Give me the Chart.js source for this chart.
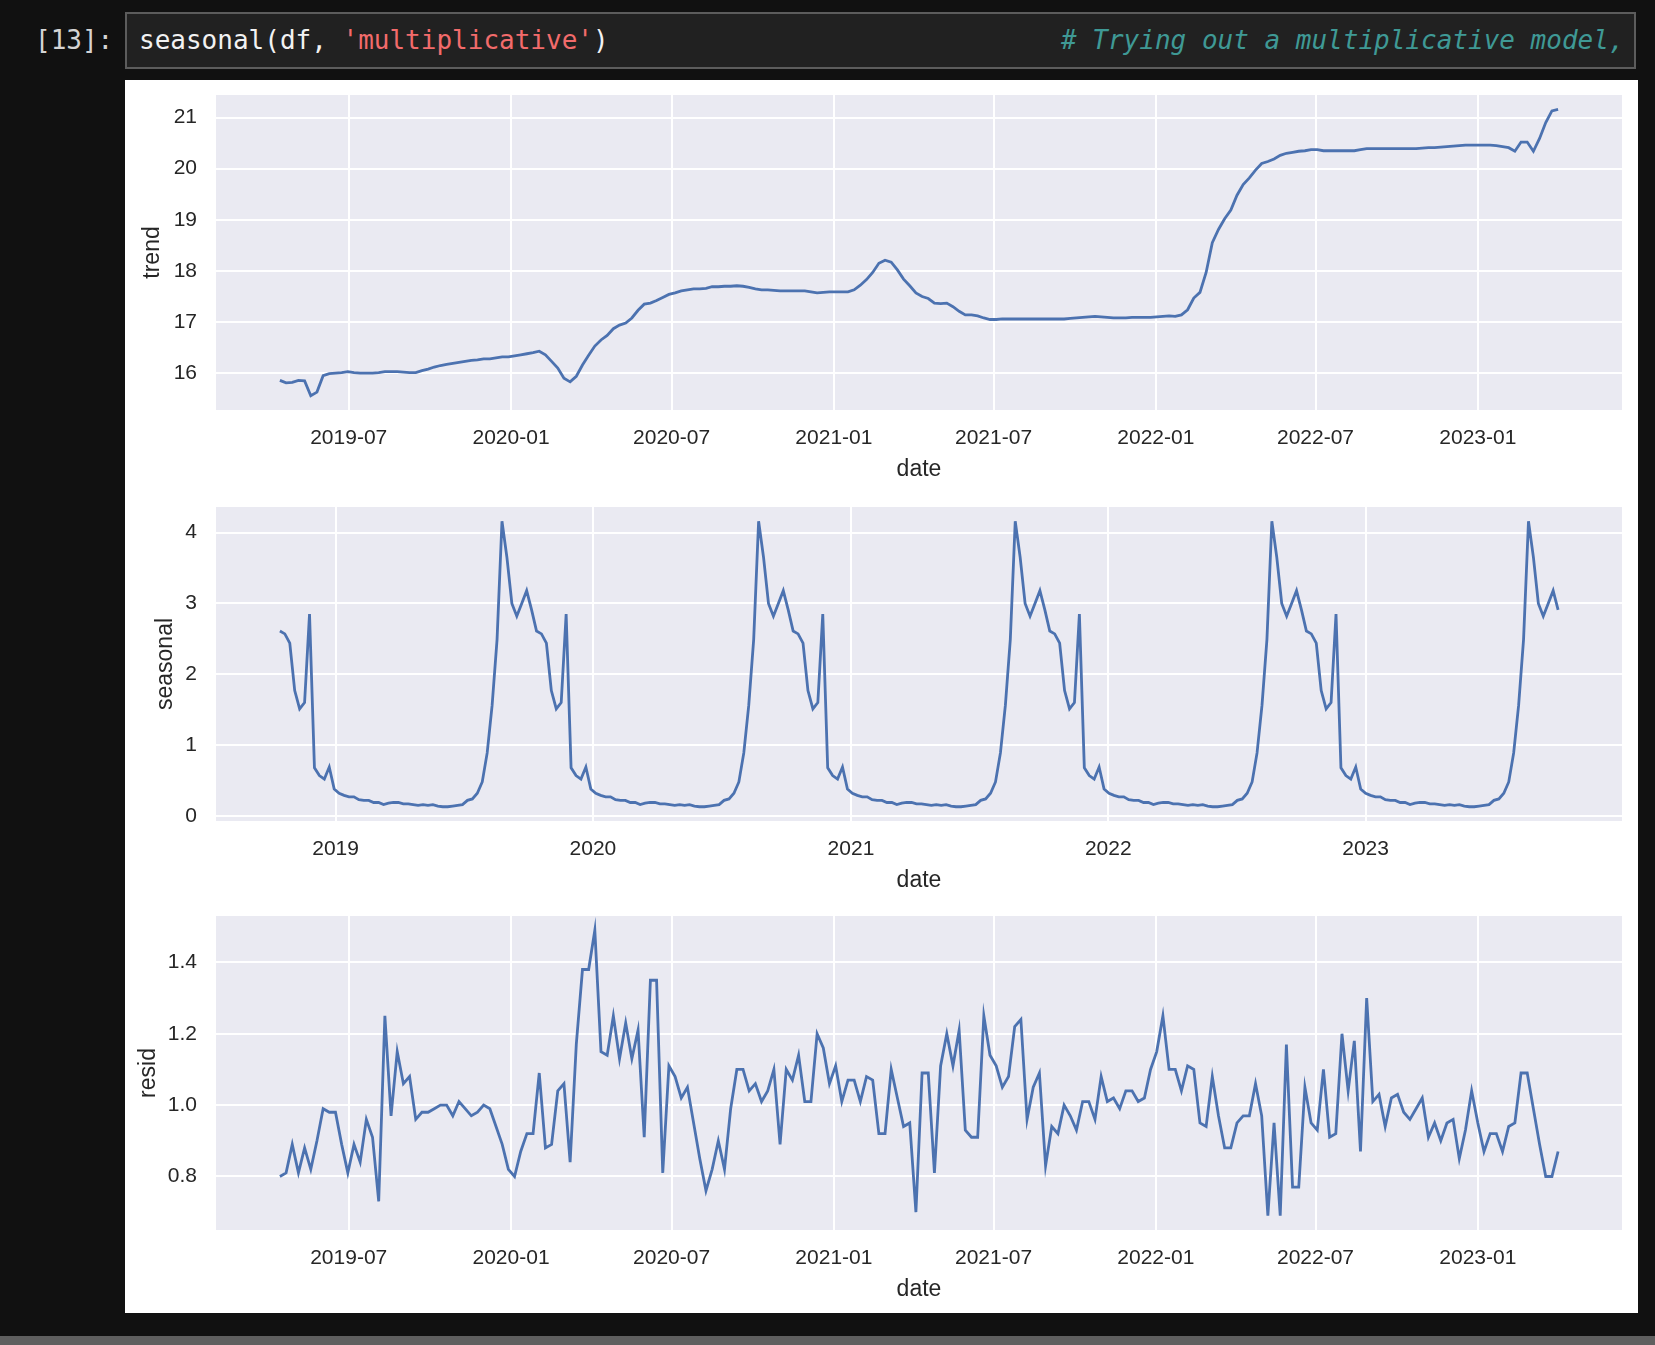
<!DOCTYPE html>
<html>
<head>
<meta charset="utf-8">
<script src="https://cdn.jsdelivr.net/npm/chart.js@4.4.1/dist/chart.umd.min.js"></script>
<style>
  html, body {
    margin: 0;
    padding: 0;
    background: #111111;
    width: 1655px;
    height: 1345px;
    overflow: hidden;
    position: relative;
  }
  .prompt, .code {
    position: absolute;
    font-family: "DejaVu Sans Mono", monospace;
    font-size: 26px;
    line-height: 30px;
    white-space: pre;
  }
  .prompt {
    left: 35px;
    top: 25px;
    color: #d4d4d4;
  }
  .cell {
    position: absolute;
    left: 125px;
    top: 12px;
    width: 1507px;
    height: 53px;
    border: 2px solid #5c5c5c;
    background: #212121;
    overflow: hidden;
  }
  .code {
    left: 12px;
    top: 11px;
    color: #f2f2f2;
  }
  .str { color: #f26b6b; }
  .comment {
    position: absolute;
    left: 934px;
    top: 11px;
    color: #3f9995;
    font-style: italic;
    font-family: "DejaVu Sans Mono", monospace;
    font-size: 26px;
    line-height: 30px;
    white-space: pre;
  }
  .figure {
    position: absolute;
    left: 125px;
    top: 80px;
    width: 1513px;
    height: 1233px;
    background: #ffffff;
  }
  .bar {
    position: absolute;
    left: 0;
    top: 1336px;
    width: 1655px;
    height: 9px;
    background: #5f5f5f;
  }
  canvas {
    position: absolute;
    left: 125px;
  }
</style>
</head>
<body>
<div class="prompt">[13]:</div>
<div class="cell">
  <div class="code">seasonal(df, <span class="str">'multiplicative'</span>)</div>
  <div class="comment"># Trying out a multiplicative model, since the seasonal swings grow</div>
</div>
<div class="figure"></div>
<canvas id="trendChart" width="1513" height="403" style="top:80px"></canvas>
<canvas id="seasonalChart" width="1513" height="411" style="top:483px"></canvas>
<canvas id="residChart" width="1513" height="409" style="top:894px"></canvas>
<div class="bar"></div>

<script>
// weekly series, first week of the decomposition
const firstWeek = "2018-10-14";
const weekCount = 260;
const trendOffset = 26; // trend / resid are NaN for the first and last 26 weeks

const trendXTicks = ["2019-07", "2020-01", "2020-07", "2021-01", "2021-07", "2022-01", "2022-07", "2023-01"];
const seasonalXTicks = ["2019", "2020", "2021", "2022", "2023"];
const trendYTicks = [16, 17, 18, 19, 20, 21];
const seasonalYTicks = [0, 1, 2, 3, 4];
const residYTicks = [0.8, 1.0, 1.2, 1.4];

const trend = [
  15.86, 15.81, 15.82, 15.86, 15.85, 15.56, 15.63, 15.95, 15.99, 16.00,
  16.01, 16.03, 16.01, 16.00, 16.00, 16.00, 16.01, 16.03, 16.03, 16.03,
  16.02, 16.01, 16.01, 16.05, 16.08, 16.12, 16.15, 16.17, 16.19, 16.21,
  16.23, 16.25, 16.26, 16.28, 16.28, 16.30, 16.32, 16.32, 16.34, 16.36,
  16.38, 16.40, 16.43, 16.36, 16.23, 16.10, 15.90, 15.83, 15.94, 16.16,
  16.35, 16.53, 16.65, 16.74, 16.87, 16.94, 16.98, 17.08, 17.23, 17.35,
  17.37, 17.42, 17.48, 17.54, 17.57, 17.61, 17.63, 17.65, 17.65,
  17.66, 17.69, 17.69, 17.70, 17.70, 17.71, 17.70, 17.68, 17.65, 17.63,
  17.63, 17.62, 17.61, 17.61, 17.61, 17.61, 17.61, 17.59, 17.57, 17.58,
  17.59, 17.59, 17.59, 17.59, 17.63, 17.72, 17.83, 17.97, 18.15, 18.21,
  18.17, 18.02, 17.84, 17.71, 17.57, 17.50, 17.46, 17.37, 17.36, 17.37,
  17.30, 17.21, 17.14, 17.14, 17.12, 17.08, 17.05, 17.05, 17.06, 17.06,
  17.06, 17.06, 17.06, 17.06, 17.06, 17.06, 17.06, 17.06, 17.06, 17.07,
  17.08, 17.09, 17.10, 17.11, 17.10, 17.09, 17.08, 17.08, 17.08,
  17.09, 17.09, 17.09, 17.09, 17.10, 17.11, 17.12, 17.11, 17.14, 17.24,
  17.47, 17.58, 17.97, 18.55, 18.81, 19.02, 19.19, 19.48, 19.69, 19.82,
  19.97, 20.10, 20.14, 20.19, 20.26, 20.30, 20.32, 20.34, 20.35, 20.37,
  20.37, 20.35, 20.35, 20.35, 20.35, 20.35, 20.35, 20.37, 20.39, 20.39,
  20.39, 20.39, 20.39, 20.39, 20.39, 20.39, 20.39, 20.40, 20.41, 20.41,
  20.42, 20.43, 20.44, 20.45, 20.46, 20.46, 20.46, 20.46, 20.46, 20.45,
  20.43, 20.41, 20.34, 20.52, 20.52, 20.34, 20.59, 20.90, 21.13, 21.16,
];

// the seasonal component is the same 52-week cycle, five times
const seasonal = [
  2.61, 2.57, 2.44, 1.77, 1.51, 1.60, 2.85, 0.68, 0.57, 0.52, 0.69, 0.38, 0.32, 0.29, 0.27, 0.27, 0.23, 0.22, 0.22, 0.19, 0.19, 0.16, 0.18, 0.19, 0.19, 0.17,
  0.17, 0.16, 0.15, 0.16, 0.15, 0.16, 0.14, 0.13, 0.13, 0.14, 0.15, 0.16, 0.22, 0.24, 0.32, 0.48, 0.89, 1.56, 2.49, 4.16, 3.65, 3.00, 2.82, 3.00, 3.18, 2.91,
  2.61, 2.57, 2.44, 1.77, 1.51, 1.60, 2.85, 0.68, 0.57, 0.52, 0.69, 0.38, 0.32, 0.29, 0.27, 0.27, 0.23, 0.22, 0.22, 0.19, 0.19, 0.16, 0.18, 0.19, 0.19, 0.17,
  0.17, 0.16, 0.15, 0.16, 0.15, 0.16, 0.14, 0.13, 0.13, 0.14, 0.15, 0.16, 0.22, 0.24, 0.32, 0.48, 0.89, 1.56, 2.49, 4.16, 3.65, 3.00, 2.82, 3.00, 3.18, 2.91,
  2.61, 2.57, 2.44, 1.77, 1.51, 1.60, 2.85, 0.68, 0.57, 0.52, 0.69, 0.38, 0.32, 0.29, 0.27, 0.27, 0.23, 0.22, 0.22, 0.19, 0.19, 0.16, 0.18, 0.19, 0.19, 0.17,
  0.17, 0.16, 0.15, 0.16, 0.15, 0.16, 0.14, 0.13, 0.13, 0.14, 0.15, 0.16, 0.22, 0.24, 0.32, 0.48, 0.89, 1.56, 2.49, 4.16, 3.65, 3.00, 2.82, 3.00, 3.18, 2.91,
  2.61, 2.57, 2.44, 1.77, 1.51, 1.60, 2.85, 0.68, 0.57, 0.52, 0.69, 0.38, 0.32, 0.29, 0.27, 0.27, 0.23, 0.22, 0.22, 0.19, 0.19, 0.16, 0.18, 0.19, 0.19, 0.17,
  0.17, 0.16, 0.15, 0.16, 0.15, 0.16, 0.14, 0.13, 0.13, 0.14, 0.15, 0.16, 0.22, 0.24, 0.32, 0.48, 0.89, 1.56, 2.49, 4.16, 3.65, 3.00, 2.82, 3.00, 3.18, 2.91,
  2.61, 2.57, 2.44, 1.77, 1.51, 1.60, 2.85, 0.68, 0.57, 0.52, 0.69, 0.38, 0.32, 0.29, 0.27, 0.27, 0.23, 0.22, 0.22, 0.19, 0.19, 0.16, 0.18, 0.19, 0.19, 0.17,
  0.17, 0.16, 0.15, 0.16, 0.15, 0.16, 0.14, 0.13, 0.13, 0.14, 0.15, 0.16, 0.22, 0.24, 0.32, 0.48, 0.89, 1.56, 2.49, 4.16, 3.65, 3.00, 2.82, 3.00, 3.18, 2.91,
];

const resid = [
  0.80, 0.81, 0.89, 0.81, 0.88, 0.82, 0.90, 0.99, 0.98, 0.98,
  0.89, 0.81, 0.89, 0.84, 0.96, 0.91, 0.73, 1.25, 0.97, 1.15,
  1.06, 1.08, 0.96, 0.98, 0.98, 0.99, 1.00, 1.00, 0.97, 1.01,
  0.99, 0.97, 0.98, 1.00, 0.99, 0.94, 0.89, 0.82, 0.80, 0.87,
  0.92, 0.92, 1.09, 0.88, 0.89, 1.04, 1.06, 0.84, 1.17, 1.38,
  1.38, 1.49, 1.15,
  1.14, 1.25, 1.13, 1.23, 1.13, 1.21, 0.91, 1.35, 1.35, 0.81,
  1.11, 1.08, 1.02, 1.05, 0.95, 0.85, 0.76, 0.82, 0.90, 0.82,
  0.99, 1.10, 1.10, 1.04, 1.06, 1.01, 1.04, 1.10, 0.89, 1.10,
  1.07, 1.14, 1.01, 1.01, 1.20, 1.16, 1.06, 1.11, 1.01, 1.07,
  1.07, 1.01, 1.08, 1.07, 0.92, 0.92, 1.10, 1.02, 0.94, 0.95,
  0.70, 1.09, 1.09, 0.81,
  1.11, 1.20, 1.11, 1.21, 0.93, 0.91, 0.91, 1.25, 1.14, 1.11,
  1.05, 1.08, 1.22, 1.24, 0.96, 1.05, 1.09, 0.83, 0.94, 0.92,
  1.00, 0.97, 0.93, 1.01, 1.01, 0.96, 1.08, 1.01, 1.02, 0.99,
  1.04, 1.04, 1.01, 1.02, 1.10, 1.15, 1.25, 1.10, 1.10, 1.04,
  1.11, 1.10, 0.95, 0.94, 1.08, 0.97, 0.88, 0.88, 0.95, 0.97,
  0.97, 1.06, 0.97, 0.69,
  0.95, 0.69, 1.17, 0.77, 0.77, 1.05, 0.95, 0.93, 1.10, 0.91,
  0.92, 1.20, 1.04, 1.18, 0.87, 1.30, 1.01, 1.03, 0.94, 1.02,
  1.03, 0.98, 0.96, 0.99, 1.02, 0.91, 0.95, 0.90, 0.95, 0.96,
  0.85, 0.93, 1.04, 0.95, 0.87, 0.92, 0.92, 0.87, 0.94, 0.95,
  1.09, 1.09, 0.99, 0.89, 0.80, 0.80, 0.87,
];

const DAY = 86400000;
const toDay = (s) => {
  const [y, m] = s.split("-").map(Number);
  return Date.UTC(y, (m || 1) - 1, 1) / DAY;
};
const pad2 = (n) => String(n).padStart(2, "0");
const fmtMonth = (d) => {
  const dt = new Date(d * DAY);
  return dt.getUTCFullYear() + "-" + pad2(dt.getUTCMonth() + 1);
};

const startDay = Date.parse(firstWeek + "T00:00:00Z") / DAY;
const weeks = [];
for (let k = 0; k < weekCount; k++) weeks.push(startDay + 7 * k);
const trendWeeks = weeks.slice(trendOffset, trendOffset + trend.length);

// matplotlib style 5% margins
const margin = (lo, hi) => [lo - (hi - lo) * 0.05, hi + (hi - lo) * 0.05];

Chart.defaults.font.family = '"Liberation Sans", Arial, sans-serif';
Chart.defaults.color = "#262626";

const plotBg = {
  id: "plotBg",
  beforeDraw(chart) {
    const { ctx, chartArea: a } = chart;
    ctx.save();
    ctx.fillStyle = "#eaeaf2";
    ctx.fillRect(a.left, a.top, a.right - a.left, a.bottom - a.top);
    ctx.restore();
  },
};

function makePanel(id, xs, ys, opts) {
  const [xmin, xmax] = margin(xs[0], xs[xs.length - 1]);
  const [ymin, ymax] = margin(Math.min(...ys), Math.max(...ys));
  const xTickDays = opts.xTicks.map(toDay);

  return new Chart(document.getElementById(id).getContext("2d"), {
    type: "line",
    data: {
      datasets: [
        {
          data: ys.map((v, i) => ({ x: xs[i], y: v })),
          borderColor: "#4c72b0",
          borderWidth: 2.8,
          pointRadius: 0,
          tension: 0,
          fill: false,
        },
      ],
    },
    options: {
      responsive: false,
      animation: false,
      events: [],
      layout: { padding: { top: opts.top, right: 16, left: 0, bottom: 0 } },
      plugins: { legend: { display: false }, tooltip: { enabled: false } },
      scales: {
        x: {
          type: "linear",
          min: xmin,
          max: xmax,
          afterBuildTicks: (s) => {
            s.ticks = xTickDays.map((v) => ({ value: v }));
          },
          afterFit: (s) => {
            s.height = 73;
            s.paddingLeft = 0;
            s.paddingRight = 0;
          },
          grid: { color: "#ffffff", lineWidth: 2, drawTicks: false },
          border: { display: false },
          ticks: {
            autoSkip: false,
            maxRotation: 0,
            padding: 16,
            font: { size: 21 },
            callback: opts.xFormat,
          },
          title: {
            display: true,
            text: "date",
            font: { size: 23 },
            padding: { top: 0, bottom: 0 },
          },
        },
        y: {
          min: ymin,
          max: ymax,
          afterBuildTicks: (s) => {
            s.ticks = opts.yTicks.map((v) => ({ value: v }));
          },
          afterFit: (s) => {
            s.width = 91;
            // keep the plot top where the layout padding puts it
            s.paddingTop = 0;
            s.paddingBottom = 0;
          },
          grid: { color: "#ffffff", lineWidth: 2, drawTicks: false },
          border: { display: false },
          ticks: {
            padding: 19,
            font: { size: 21 },
            callback: opts.yFormat,
          },
          title: {
            display: true,
            text: opts.label,
            font: { size: 23 },
            padding: { top: opts.titlePad, bottom: 0 },
          },
        },
      },
    },
    plugins: [plotBg],
  });
}

makePanel("trendChart", trendWeeks, trend, {
  top: 15,
  label: "trend",
  titlePad: 14,
  xTicks: trendXTicks,
  yTicks: trendYTicks,
  xFormat: (v) => fmtMonth(v),
  yFormat: (v) => String(v),
});

makePanel("seasonalChart", weeks, seasonal, {
  top: 24,
  label: "seasonal",
  titlePad: 27,
  xTicks: seasonalXTicks,
  yTicks: seasonalYTicks,
  xFormat: (v) => String(new Date(v * DAY).getUTCFullYear()),
  yFormat: (v) => String(v),
});

makePanel("residChart", trendWeeks, resid, {
  top: 22,
  label: "resid",
  titlePad: 10,
  xTicks: trendXTicks,
  yTicks: residYTicks,
  xFormat: (v) => fmtMonth(v),
  yFormat: (v) => v.toFixed(1),
});
</script>
</body>
</html>
